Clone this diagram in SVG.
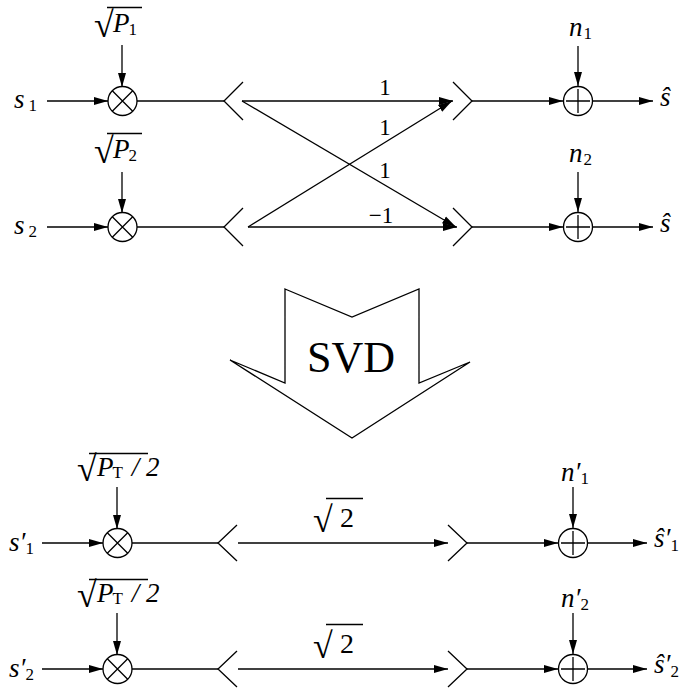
<svg xmlns="http://www.w3.org/2000/svg" width="687" height="690" viewBox="0 0 687 690">
<defs>
<marker id="ah" markerWidth="15" markerHeight="10" refX="14" refY="5" orient="auto" markerUnits="userSpaceOnUse">
<path d="M0,1 L14,5 L0,9 Z" fill="#000"/>
</marker>
<style>
.ln{stroke:#000;stroke-width:1.3;fill:none}
.ar{stroke:#000;stroke-width:1.3;fill:none;marker-end:url(#ah)}
.nd{stroke:#000;stroke-width:1.3;fill:#fff}
.t{font-family:"Liberation Serif","Times New Roman",serif;fill:#000}
.it{font-style:italic}
.v{font-size:27px}
.sb{font-size:17px;font-style:normal}
.num{font-size:23px}
.rad{font-size:36px}
</style>
</defs>
<rect width="687" height="690" fill="#fff"/>

<g id="connectors">
<line class="ar" x1="47" y1="101" x2="108" y2="101"/>
<line class="ar" x1="122" y1="45" x2="122" y2="87"/>
<line class="ln" x1="137" y1="101" x2="224" y2="101"/>
<line class="ar" x1="242" y1="101" x2="453" y2="101"/>
<line class="ar" x1="242" y1="101" x2="456" y2="227"/>
<line class="ar" x1="248" y1="227" x2="452" y2="101"/>
<line class="ar" x1="248" y1="227" x2="457" y2="227"/>
<line class="ar" x1="472" y1="101" x2="563" y2="101"/>
<line class="ar" x1="578" y1="46" x2="578" y2="86"/>
<line class="ar" x1="593" y1="101" x2="653" y2="101"/>
<line class="ar" x1="47" y1="227" x2="108" y2="227"/>
<line class="ar" x1="122" y1="172" x2="122" y2="213"/>
<line class="ln" x1="137" y1="227" x2="224" y2="227"/>
<line class="ar" x1="472" y1="227" x2="563" y2="227"/>
<line class="ar" x1="578" y1="172" x2="578" y2="212"/>
<line class="ar" x1="593" y1="227" x2="653" y2="227"/>
<line class="ar" x1="42" y1="543" x2="103" y2="543"/>
<line class="ar" x1="117" y1="487" x2="117" y2="529"/>
<line class="ln" x1="132" y1="543" x2="218" y2="543"/>
<line class="ar" x1="238" y1="543" x2="448" y2="543"/>
<line class="ar" x1="467" y1="543" x2="558" y2="543"/>
<line class="ar" x1="573" y1="487" x2="573" y2="528"/>
<line class="ar" x1="588" y1="543" x2="647" y2="543"/>
<line class="ar" x1="42" y1="669" x2="103" y2="669"/>
<line class="ar" x1="117" y1="613" x2="117" y2="655"/>
<line class="ln" x1="132" y1="669" x2="218" y2="669"/>
<line class="ar" x1="238" y1="669" x2="448" y2="669"/>
<line class="ar" x1="467" y1="669" x2="558" y2="669"/>
<line class="ar" x1="573" y1="613" x2="573" y2="654"/>
<line class="ar" x1="588" y1="669" x2="647" y2="669"/>
</g>

<g id="chev-tl1"><polyline class="ln" points="243,82 224,101 243,120"/></g>
<g id="chev-tl2"><polyline class="ln" points="243,208 224,227 243,246"/></g>
<g id="chev-tr1"><polyline class="ln" points="453,82 472,101 453,120"/></g>
<g id="chev-tr2"><polyline class="ln" points="453,208 472,227 453,246"/></g>
<g id="chev-bl1"><polyline class="ln" points="237,525 218,543 237,561"/></g>
<g id="chev-bl2"><polyline class="ln" points="237,651 218,669 237,687"/></g>
<g id="chev-br1"><polyline class="ln" points="448,525 467,543 448,561"/></g>
<g id="chev-br2"><polyline class="ln" points="448,651 467,669 448,687"/></g>

<g id="mul1"><circle class="nd" cx="122.5" cy="101" r="14.5"/><path class="ln" d="M112.3,90.8 L132.7,111.2 M132.7,90.8 L112.3,111.2"/></g>
<g id="mul2"><circle class="nd" cx="122.5" cy="227" r="14.5"/><path class="ln" d="M112.3,216.8 L132.7,237.2 M132.7,216.8 L112.3,237.2"/></g>
<g id="mul3"><circle class="nd" cx="117.5" cy="543" r="14.5"/><path class="ln" d="M107.3,532.8 L127.7,553.2 M127.7,532.8 L107.3,553.2"/></g>
<g id="mul4"><circle class="nd" cx="117.5" cy="669" r="14.5"/><path class="ln" d="M107.3,658.8 L127.7,679.2 M127.7,658.8 L107.3,679.2"/></g>

<g id="add1"><circle class="nd" cx="578" cy="101" r="14.5"/><path class="ln" d="M566,101 H590 M578,89 V113"/></g>
<g id="add2"><circle class="nd" cx="578" cy="227" r="14.5"/><path class="ln" d="M566,227 H590 M578,215 V239"/></g>
<g id="add3"><circle class="nd" cx="573" cy="543" r="14.5"/><path class="ln" d="M561,543 H585 M573,531 V555"/></g>
<g id="add4"><circle class="nd" cx="573" cy="669" r="14.5"/><path class="ln" d="M561,669 H585 M573,657 V681"/></g>

<g id="svd">
<polygon class="nd" points="285,289 352,317 419,289 419,383 470,362 352,438 230,360 285,383"/>
<text class="t" x="351" y="372" font-size="44" text-anchor="middle">SVD</text>
</g>

<g id="lbl-s1"><text class="t it v" x="14" y="108">s<tspan class="sb" dx="4" dy="3">1</tspan></text></g>
<g id="lbl-s2"><text class="t it v" x="14" y="234">s<tspan class="sb" dx="4" dy="3">2</tspan></text></g>
<g id="lbl-p1">
<text class="t rad" x="94" y="37">√</text>
<line class="ln" x1="107" y1="7.5" x2="142" y2="7.5"/>
<text class="t it v" x="113" y="32">P<tspan class="sb" dx="-1" dy="3">1</tspan></text>
</g>
<g id="lbl-p2">
<text class="t rad" x="94" y="163">√</text>
<line class="ln" x1="107" y1="133.5" x2="142" y2="133.5"/>
<text class="t it v" x="113" y="158">P<tspan class="sb" dx="-1" dy="3">2</tspan></text>
</g>
<g id="lbl-n1"><text class="t it v" x="569" y="36">n<tspan class="sb" dx="1" dy="3">1</tspan></text></g>
<g id="lbl-n2"><text class="t it v" x="569" y="162">n<tspan class="sb" dx="1" dy="3">2</tspan></text></g>
<g id="lbl-shat1"><text class="t it v" x="660" y="106">ŝ</text></g>
<g id="lbl-shat2"><text class="t it v" x="660" y="232">ŝ</text></g>
<g id="lbl-w">
<text class="t num" x="385" y="95" text-anchor="middle">1</text>
<text class="t num" x="385" y="135" text-anchor="middle">1</text>
<text class="t num" x="385" y="178" text-anchor="middle">1</text>
<text class="t num" x="381" y="223" text-anchor="middle">−1</text>
</g>

<g id="lbl-sp1"><text class="t it v" x="9" y="551">s′<tspan class="sb" dx="0" dy="3">1</tspan></text></g>
<g id="lbl-sp2"><text class="t it v" x="9" y="677">s′<tspan class="sb" dx="0" dy="3">2</tspan></text></g>
<g id="lbl-pt1">
<text class="t rad" x="77" y="481">√</text>
<line class="ln" x1="89" y1="453.5" x2="148" y2="453.5"/>
<text class="t it v" x="97" y="476">P<tspan class="sb" dx="-1" dy="2">T</tspan><tspan dx="2" dy="-2"> / 2</tspan></text>
</g>
<g id="lbl-pt2">
<text class="t rad" x="77" y="607">√</text>
<line class="ln" x1="89" y1="579.5" x2="148" y2="579.5"/>
<text class="t it v" x="97" y="602">P<tspan class="sb" dx="-1" dy="2">T</tspan><tspan dx="2" dy="-2"> / 2</tspan></text>
</g>
<g id="lbl-np1"><text class="t it v" x="561" y="481">n′<tspan class="sb" dx="0" dy="3">1</tspan></text></g>
<g id="lbl-np2"><text class="t it v" x="561" y="607">n′<tspan class="sb" dx="0" dy="3">2</tspan></text></g>
<g id="lbl-r1">
<text class="t rad" x="313" y="532">√</text>
<line class="ln" x1="326" y1="498.5" x2="363" y2="498.5"/>
<text class="t" x="340" y="527" font-size="28">2</text>
</g>
<g id="lbl-r2">
<text class="t rad" x="313" y="658">√</text>
<line class="ln" x1="326" y1="624.5" x2="363" y2="624.5"/>
<text class="t" x="340" y="653" font-size="28">2</text>
</g>
<g id="lbl-so1"><text class="t it v" x="654" y="547">ŝ′<tspan class="sb" dx="0" dy="4">1</tspan></text></g>
<g id="lbl-so2"><text class="t it v" x="654" y="673">ŝ′<tspan class="sb" dx="0" dy="4">2</tspan></text></g>
</svg>
